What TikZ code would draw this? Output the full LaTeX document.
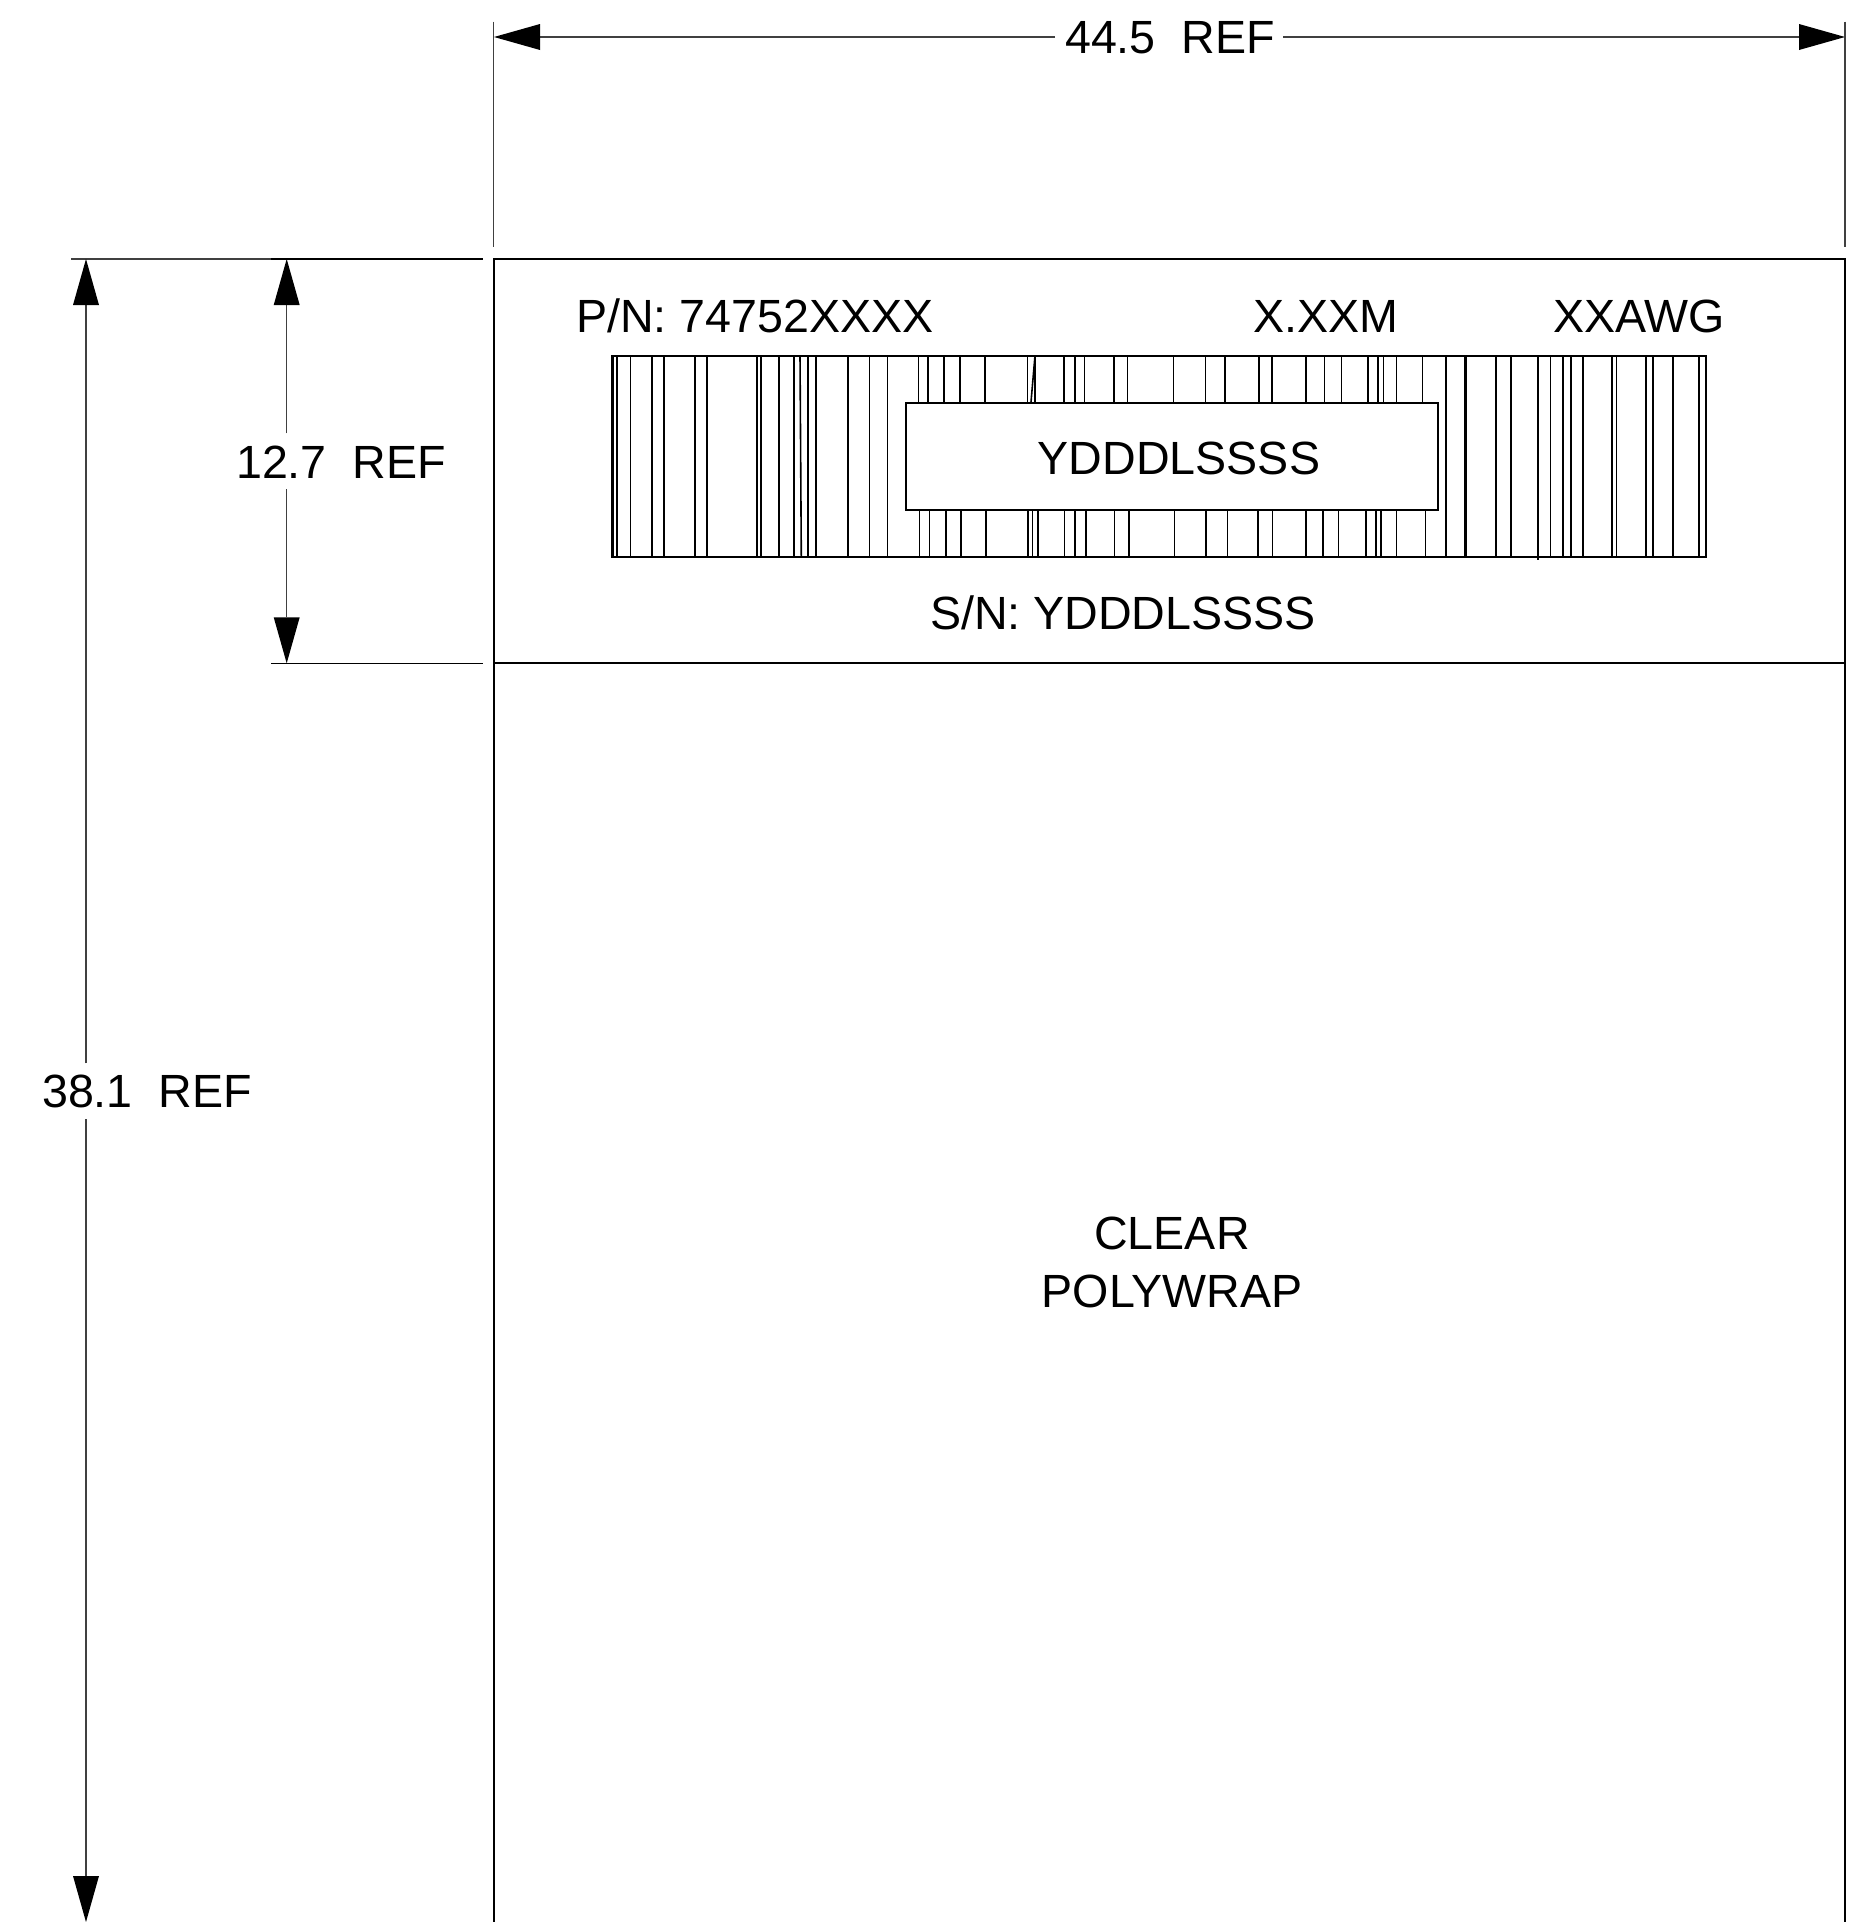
\documentclass[tikz,border=0pt]{standalone}
\usepackage{fontspec}
\setmainfont{Liberation Sans}
\usetikzlibrary{arrows.meta}
\begin{document}
\begin{tikzpicture}[x=0.5pt,y=-0.5pt,
  box line/.style={line width=1pt,black},
  dim line/.style={line width=0.55pt,black!75},
  ext dark/.style={line width=0.8pt,black},
  bar line/.style={line width=0.8pt,black},
  tip/.style={-{Triangle[length=23pt,width=13pt,line width=0pt,color=black,fill=black]}},
  lab/.style={font=\fontsize{23.3}{23.3}\selectfont,anchor=base,inner sep=0pt,text=black}]
\useasboundingbox (0,0) rectangle (1860,1922);
% outer wrap
\draw[box line] (494,1922) -- (494,259) -- (1845,259) -- (1845,1922);
\draw[box line] (494,663) -- (1845,663);
% barcode
\foreach \x in {613.3,616.7,630.3,652,663.7,694.7,706.7,756.7,760.7,779,793.7,807.7,815.7,848,869.3,887.3,
  1446,1464.6,1466.2,1495.8,1510.8,1550.4,1563,1571,1583.2,1612,1616.4,1646,1653.2,1673,1698.7}
  \draw[bar line] (\x,355.5) -- (\x,557);
\draw[bar line] (800,355.5) -- (801.3,557);
\draw[bar line] (1537.7,355.5) -- (1537.7,559.5);
\foreach \x/\y in {918.3/919.3,927.7/929.3,944/945.7,959.7/961,985/985.7,1027.3/1027.7,1035/1032.3,1064/1064.3,1074.7/1075,1084.3/1085.7,
  1113.8/1114.6,1127.3/1128.9,1173.5/1174.3,1205.6/1206,1225/1227.3,1259/1258.2,1272/1272.4,1306/1306,1324.6/1323,1341.6/1338.4,
  1367.7/1365.7,1378/1376,1383.5/1380.7,1396.6/1396.6,1422.3/1425.4}
  \draw[bar line] (\x,355.5) -- (\x,402) (\y,509.5) -- (\y,557);
\draw[bar line] (1035,355.5) -- (1031,402);
\draw[bar line] (1037.7,509.5) -- (1037.7,557);
\draw[box line] (611.7,355.5) rectangle (1706,556.5);
\node[draw=black,line width=0.9pt,fill=white,inner sep=0pt,minimum width=266.2pt,minimum height=53.5pt,anchor=north west] (serialbox) at (904.7,402) {};
% labels
\node[lab] (serial) at (1179,474) {YDDDLSSSS};
\node[lab] (pn) at (755,332.5) {P/N: 74752XXXX};
\node[lab] (len) at (1326,332.5) {X.XXM};
\node[lab] (awg) at (1639,332.5) {XXAWG};
\node[lab] (sn) at (1123,629) {S/N: YDDDLSSSS};
\node[lab] (clear) at (1172,1249) {CLEAR};
\node[lab] (poly) at (1172,1307.5) {POLYWRAP};
\node[lab] (w) at (1170,53.3) {44.5\ \ REF};
\node[lab] (h) at (341,478) {12.7\ \ REF};
\node[lab] (t) at (147,1107.5) {38.1\ \ REF};
% top dimension
\coordinate (wl) at (494,37); \coordinate (wr) at (1845,37);
\coordinate (wlgap) at (1055,37); \coordinate (wrgap) at (1283,37);
\draw[dim line,tip] (wlgap) -- (wl);
\draw[dim line,tip] (wrgap) -- (wr);
\draw[dim line] (493.5,21.7) -- (493.5,247.3);
\draw[dim line] (1845,21.7) -- (1845,247.3);
% left extension lines
\draw[dim line] (71,259) -- (271,259);
\draw[ext dark] (271,259) -- (482.7,259);
\draw[ext dark] (271,663.3) -- (482.7,663.3);
% 12.7 dimension
\coordinate (ht) at (286.7,259); \coordinate (hb) at (286.7,663.3);
\coordinate (htgap) at (286.7,433.3); \coordinate (hbgap) at (286.7,489.3);
\draw[dim line,tip] (htgap) -- (ht);
\draw[dim line,tip] (hbgap) -- (hb);
% 38.1 dimension
\coordinate (tt) at (86,259); \coordinate (tb) at (86,1922);
\coordinate (ttgap) at (86,1063.3); \coordinate (tbgap) at (86,1119.3);
\draw[dim line,tip] (ttgap) -- (tt);
\draw[dim line,tip] (tbgap) -- (tb);
\end{tikzpicture}
\end{document}
